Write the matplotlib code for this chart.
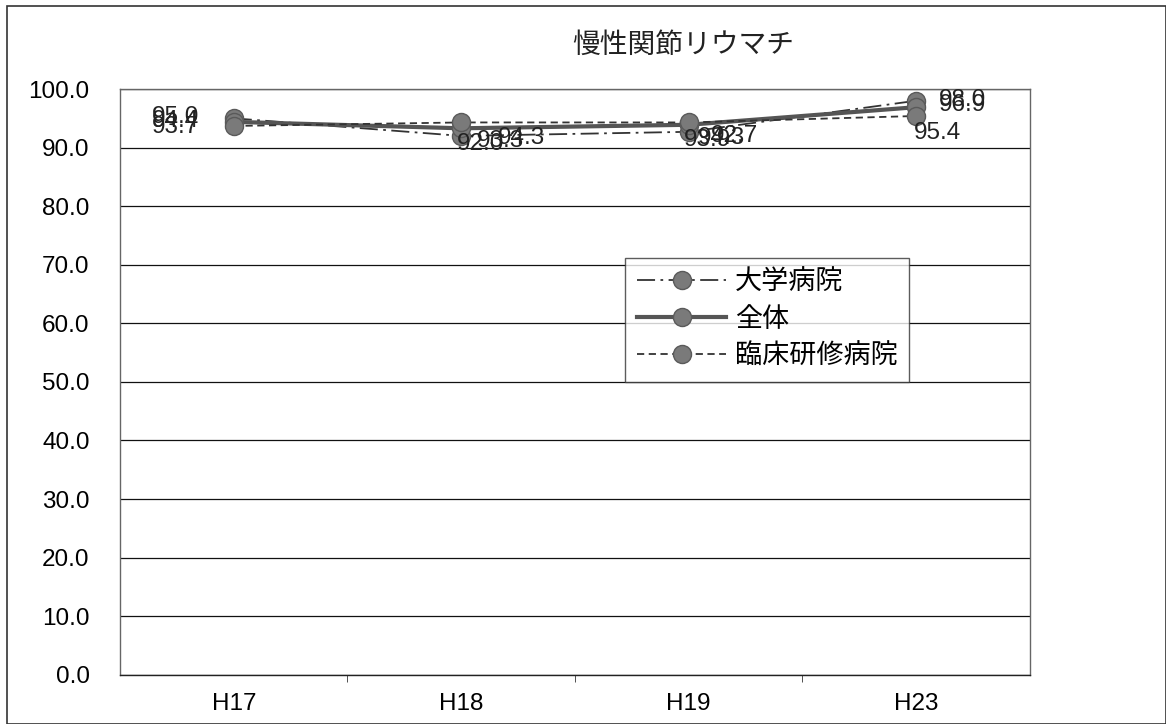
import matplotlib.pyplot as plt
import matplotlib.patches as mpatches

plt.rcParams['font.family'] = ['Liberation Sans', 'Noto Sans CJK JP']

categories = ["H17", "H18", "H19", "H23"]
univ = [95.0, 92.0, 92.7, 98.0]      # 大学病院
total = [94.4, 93.3, 93.9, 96.9]     # 全体
clinic = [93.7, 94.3, 94.3, 95.4]    # 臨床研修病院
yticks = [0, 10, 20, 30, 40, 50, 60, 70, 80, 90, 100]

fig = plt.figure(figsize=(11.66, 7.24), dpi=100)
fig.patches.append(mpatches.Rectangle((0.006, 0.0), 0.994, 0.992, transform=fig.transFigure,
                                      fill=False, edgecolor='#333333', linewidth=1.2))
ax = fig.add_axes([0.103, 0.068, 0.780, 0.809])

x = list(range(len(categories)))
mk = dict(marker='o', markersize=13, markerfacecolor='#7a7a7a', markeredgecolor='#5a5a5a')
ax.plot(x, univ, color='#333333', linewidth=1.3, dashes=[10, 3, 1.5, 3], label='大学病院', **mk)
ax.plot(x, total, color='#555555', linewidth=3.0, linestyle='-', label='全体', **mk)
ax.plot(x, clinic, color='#333333', linewidth=1.3, dashes=[4, 2.5], label='臨床研修病院', **mk)

# data labels (manually placed like the original)
lbl = dict(fontsize=17.5, color='#222222', va='center')
ax.text(-0.36, 95.3, f"{univ[0]:.1f}", **lbl)
ax.text(-0.36, 94.5, f"{total[0]:.1f}", **lbl)
ax.text(-0.36, 93.6, f"{clinic[0]:.1f}", **lbl)
ax.text(0.98, 90.7, f"{univ[1]:.1f}", **lbl)
ax.text(1.07, 91.2, f"{total[1]:.1f}", **lbl)
ax.text(1.16, 91.6, f"{clinic[1]:.1f}", **lbl)
ax.text(1.98, 91.3, f"{total[2]:.1f}", **lbl)
ax.text(2.04, 91.6, f"{clinic[2]:.1f}", **lbl)
ax.text(2.10, 91.9, f"{univ[2]:.1f}", **lbl)
ax.text(3.10, 98.2, f"{univ[3]:.1f}", **lbl)
ax.text(3.10, 97.3, f"{total[3]:.1f}", **lbl)
ax.text(2.99, 92.5, f"{clinic[3]:.1f}", **lbl)

ax.set_xlim(-0.5, 3.5)
ax.set_ylim(0, 100)
ax.set_yticks(yticks)
ax.set_yticklabels([f"{v:.1f}" for v in yticks], fontsize=17.5)
ax.set_xticks(x)
ax.set_xticklabels(categories, fontsize=17.5)
ax.set_xticks([0.5, 1.5, 2.5], minor=True)
ax.tick_params(axis='x', which='major', length=0, pad=13)
ax.tick_params(axis='x', which='minor', length=5, direction='out', color='#333333')
ax.tick_params(axis='y', length=0, pad=22)
ax.yaxis.grid(True, color='#111111', linewidth=0.9)
ax.set_axisbelow(True)
for s in ax.spines.values():
    s.set_color('#666666')
    s.set_linewidth(1.0)
ax.spines['bottom'].set_color('#222222')

fig.text(0.586, 0.937, "慢性関節リウマチ", fontsize=20, ha='center', va='center', color='#222222')

leg = ax.legend(loc='upper left', bbox_to_anchor=(0.555, 0.712), fontsize=19.5, frameon=True,
                fancybox=False, edgecolor='#333333', handlelength=3.3, borderpad=0.45,
                labelspacing=0.4, handletextpad=0.3, borderaxespad=0)
leg.get_frame().set_linewidth(1.0)

plt.savefig("out.png", dpi=100)
